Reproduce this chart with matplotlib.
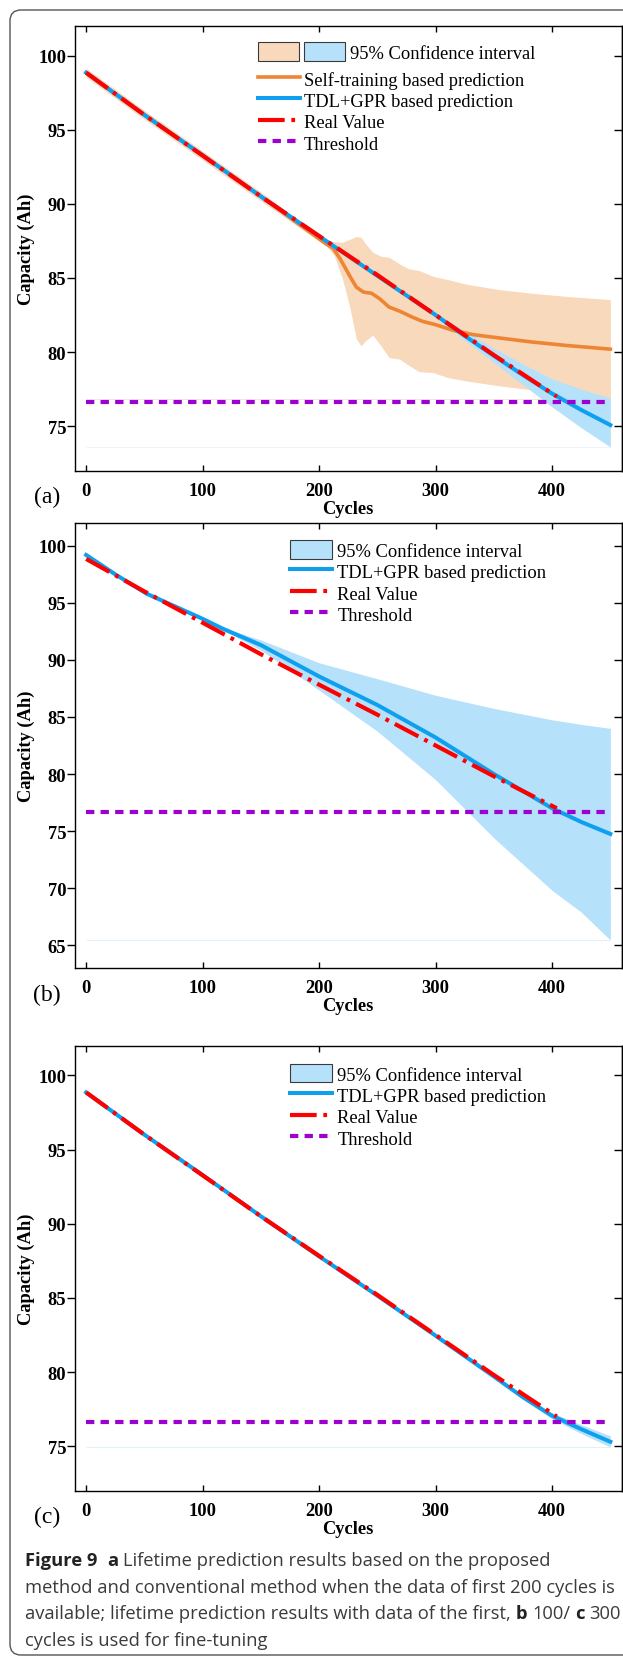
import numpy as np
import matplotlib

matplotlib.use("Agg")
import matplotlib.pyplot as plt
from matplotlib.patches import Patch, FancyBboxPatch
from matplotlib.lines import Line2D
from matplotlib.legend_handler import HandlerTuple
from matplotlib.transforms import IdentityTransform

# ---- data -----------------------------------------------------------------
threshold = 76.65

real_x = [0, 50, 100, 150, 200, 250, 300, 350, 404]
real_y = [98.85, 96.0, 93.26, 90.5, 87.83, 85.2, 82.5, 79.8, 77.0]

# (a) fine-tuning with first 200 cycles
self_x = [0, 50, 100, 150, 198, 206, 212, 218, 223, 228, 232, 238, 245, 252,
          260, 269, 280, 289, 300, 315, 332, 355, 383, 412, 450]
self_y = [98.85, 96.0, 93.26, 90.5, 87.75, 87.3, 87.0, 86.3, 85.6, 84.9, 84.38,
          84.05, 83.97, 83.6, 83.04, 82.77, 82.36, 82.07, 81.85, 81.47, 81.18,
          80.95, 80.68, 80.45, 80.2]
self_band_x = [0, 50, 100, 150, 198, 206, 213, 220, 226, 232, 236, 240, 246,
               253, 260, 269, 277, 286, 298, 310, 326, 355, 383, 412, 450]
self_hi = [99.15, 96.3, 93.56, 90.8, 87.95, 87.52, 87.45, 87.41, 87.6, 87.8,
           87.75, 87.3, 86.74, 86.47, 86.4, 85.95, 85.62, 85.5, 85.11, 84.9,
           84.59, 84.21, 83.97, 83.76, 83.54]
self_lo = [98.55, 95.7, 92.96, 90.2, 87.6, 87.18, 86.5, 84.95, 83.13, 80.88,
           80.43, 80.77, 81.15, 80.43, 79.64, 79.53, 79.1, 78.67, 78.62, 78.29,
           78.06, 77.72, 77.45, 77.16, 76.87]

tdl_a_x = [0, 50, 100, 150, 200, 250, 300, 325, 350, 375, 400, 425, 450]
tdl_a_y = [98.85, 96.0, 93.28, 90.5, 87.82, 85.15, 82.5, 81.1, 79.75, 78.45,
           77.2, 76.1, 75.08]
tdl_a_hi = [98.95, 96.1, 93.38, 90.6, 87.92, 85.25, 82.65, 81.45, 80.25, 79.2,
            78.2, 77.5, 76.9]
tdl_a_lo = [98.75, 95.9, 93.18, 90.4, 87.72, 85.05, 82.35, 80.8, 79.3, 77.8,
            76.3, 74.9, 73.6]

# (b) first 100 cycles
tdl_b_x = [0, 25, 52, 75, 100, 117, 150, 200, 250, 300, 350, 400, 425, 450]
tdl_b_y = [99.2, 97.5, 95.8, 94.75, 93.6, 92.75, 91.3, 88.55, 86.05, 83.2,
           80.0, 77.0, 75.8, 74.75]
tdl_b_hi = [99.3, 97.6, 95.9, 94.85, 93.7, 92.85, 91.75, 89.75, 88.35, 86.9,
            85.75, 84.75, 84.35, 84.0]
tdl_b_lo = [99.1, 97.4, 95.7, 94.65, 93.5, 92.65, 90.85, 87.35, 83.75, 79.5,
            74.4, 69.8, 67.9, 65.45]

# (c) first 300 cycles
tdl_c_x = [0, 50, 100, 150, 200, 250, 300, 350, 375, 400, 425, 450]
tdl_c_y = [98.85, 96.0, 93.28, 90.5, 87.8, 85.15, 82.45, 79.7, 78.3, 77.05,
           76.15, 75.3]
tdl_c_hi = [98.9, 96.05, 93.33, 90.55, 87.85, 85.2, 82.5, 79.78, 78.42, 77.25,
            76.45, 75.7]
tdl_c_lo = [98.8, 95.95, 93.23, 90.45, 87.75, 85.1, 82.4, 79.62, 78.18, 76.85,
            75.85, 74.95]

cycle_ticks = [0, 100, 200, 300, 400]
cap_ticks_ac = [75, 80, 85, 90, 95, 100]
cap_ticks_b = [65, 70, 75, 80, 85, 90, 95, 100]

# ---- style -----------------------------------------------------------------
BLUE = "#0ea0ee"
BLUE_FILL = "#b6e1fa"
ORANGE = "#ee8534"
ORANGE_FILL = "#f9d9bc"
RED = "#ff0000"
PURPLE = "#9d00cf"
SERIF = "Liberation Serif"
FS = 13.3

plt.rcParams["font.family"] = SERIF
plt.rcParams["axes.linewidth"] = 1.0

W, H = 623, 1658
fig = plt.figure(figsize=(W / 100, H / 100), dpi=100)

red_kw = dict(color=RED, lw=3.0, linestyle=(0, (6.4, 1.6, 0.9, 1.6)))
pur_kw = dict(color=PURPLE, lw=3.0, linestyle=(0, (2.0, 1.5)))
blue_kw = dict(color=BLUE, lw=2.9)
orange_kw = dict(color=ORANGE, lw=2.6)


def make_axes(top, bottom, left=74.5, right=622):
    return fig.add_axes([left / W, 1 - bottom / H, (right - left) / W,
                         (bottom - top) / H])


def style_axes(ax, ylim, yticks, tag, tag_y):
    ax.set_xlim(-10, 460)
    ax.set_ylim(*ylim)
    ax.set_xticks(cycle_ticks)
    ax.set_yticks(yticks)
    ax.tick_params(axis="x", direction="in", top=True, length=4.5, width=1,
                   pad=8, labelsize=FS)
    ax.tick_params(axis="y", direction="out", length=5.5, width=1, pad=0.5,
                   labelsize=FS)
    for lab in ax.get_xticklabels() + ax.get_yticklabels():
        lab.set_fontweight("bold")
    sec = ax.secondary_yaxis("right")
    sec.set_yticks(yticks)
    sec.tick_params(direction="in", length=5.5, width=1, labelright=False)
    ax.set_xlabel("Cycles", fontsize=FS, fontweight="bold")
    ax.xaxis.set_label_coords(0.5, -0.066)
    ax.set_ylabel("Capacity (Ah)", fontsize=FS, fontweight="bold")
    ax.yaxis.set_label_coords(-0.072, 0.5)
    fig.text(47 / W, 1 - tag_y / H, tag, fontsize=17, ha="center",
             va="center", family=SERIF)


def baseline_artifact(ax, xs, lo, color):
    # MATLAB fill leaves a faint edge along the last lower value
    ax.hlines(lo[-1], xs[0], xs[-1], color=color, lw=0.7, zorder=1)


# ---- (a) -------------------------------------------------------------------
ax = make_axes(27, 471.7)
ax.fill_between(self_band_x, self_lo, self_hi, color=ORANGE_FILL, lw=0, zorder=1)
baseline_artifact(ax, self_band_x, self_lo, "#f5e6dc")
ax.fill_between(tdl_a_x, tdl_a_lo, tdl_a_hi, color=BLUE_FILL, lw=0, zorder=2)
baseline_artifact(ax, tdl_a_x, tdl_a_lo, "#eef4f8")
ax.plot(self_x, self_y, zorder=3, **orange_kw)
ax.plot(tdl_a_x, tdl_a_y, zorder=4, **blue_kw)
ax.plot(real_x, real_y, zorder=5, **red_kw)
ax.hlines(threshold, 0, 450, zorder=6, **pur_kw)
style_axes(ax, (72, 102), cap_ticks_ac, "(a)", 497)

ci_pair = (Patch(facecolor=ORANGE_FILL, edgecolor="#3a3a3a", lw=0.8),
           Patch(facecolor=BLUE_FILL, edgecolor="#3a3a3a", lw=0.8))
leg1 = ax.legend([ci_pair], ["95% Confidence interval"],
                 handler_map={tuple: HandlerTuple(ndivide=None, pad=0.27)},
                 loc="center left", bbox_to_anchor=(0.3352, 0.9415),
                 frameon=False, fontsize=FS, handlelength=4.71,
                 handleheight=1.14, handletextpad=0.27, borderpad=0,
                 borderaxespad=0)
ax.add_artist(leg1)
ax.legend([Line2D([], [], **orange_kw), Line2D([], [], **blue_kw),
           Line2D([], [], **red_kw), Line2D([], [], **pur_kw)],
          ["Self-training based prediction", "TDL+GPR based prediction",
           "Real Value", "Threshold"],
          loc="center left", bbox_to_anchor=(0.3352, 0.8089), frameon=False,
          fontsize=FS, handlelength=2.27, handleheight=1.14,
          handletextpad=0.22, labelspacing=0.11, borderpad=0, borderaxespad=0)


def tdl_panel(top, bottom, xs, ys, hi, lo, ylim, yticks, tag, tag_y, leg_y):
    ax = make_axes(top, bottom)
    ax.fill_between(xs, lo, hi, color=BLUE_FILL, lw=0, zorder=1)
    baseline_artifact(ax, xs, lo, "#dff0fb")
    ax.plot(xs, ys, zorder=3, **blue_kw)
    ax.plot(real_x, real_y, zorder=4, **red_kw)
    ax.hlines(threshold, 0, 450, zorder=5, **pur_kw)
    style_axes(ax, ylim, yticks, tag, tag_y)
    ax.legend([Patch(facecolor=BLUE_FILL, edgecolor="#3a3a3a", lw=0.8),
               Line2D([], [], **blue_kw), Line2D([], [], **red_kw),
               Line2D([], [], **pur_kw)],
              ["95% Confidence interval", "TDL+GPR based prediction",
               "Real Value", "Threshold"],
              loc="center left", bbox_to_anchor=(0.3936, leg_y), frameon=False,
              fontsize=FS, handlelength=2.27, handleheight=1.14,
              handletextpad=0.3, labelspacing=0.11, borderpad=0,
              borderaxespad=0)
    return ax


tdl_panel(524, 969, tdl_b_x, tdl_b_y, tdl_b_hi, tdl_b_lo, (63, 102),
          cap_ticks_b, "(b)", 995, 0.867)
tdl_panel(1046.7, 1491.7, tdl_c_x, tdl_c_y, tdl_c_hi, tdl_c_lo, (72, 102),
          cap_ticks_ac, "(c)", 1517, 0.8645)

# ---- rounded frame ------------------------------------------------------------
fig.add_artist(FancyBboxPatch((10, 2), 660, 1645,
                              boxstyle="round,pad=0,rounding_size=11",
                              transform=IdentityTransform(), fc="none",
                              ec="#555555", lw=1.0))

# ---- caption ------------------------------------------------------------------
CAP_FS = 13.2
renderer = fig.canvas.get_renderer()


def text_width(s, bold):
    t = fig.text(0, 0, s, fontsize=CAP_FS, family="Open Sans",
                 fontweight="bold" if bold else "normal")
    w = t.get_window_extent(renderer).width
    t.remove()
    return w


space_w = text_width("x x", False) - text_width("xx", False)


def caption_line(y_px, parts):
    x = 25
    for s, bold, gap in parts:
        x += gap * space_w
        t = fig.text(x, H - y_px, s, transform=IdentityTransform(),
                     fontsize=CAP_FS, family="Open Sans",
                     fontweight="bold" if bold else "normal",
                     color="#222222" if bold else "#3b3b3b", va="baseline")
        x += t.get_window_extent(renderer).width


caption_line(1566, [("Figure 9", True, 0), ("a", True, 2),
                    ("Lifetime prediction results based on the proposed", False, 1)])
caption_line(1592.7, [("method and conventional method when the data of first 200 cycles is", False, 0)])
caption_line(1619.3, [("available; lifetime prediction results with data of the first,", False, 0),
                      ("b", True, 1), ("100/", False, 1), ("c", True, 1),
                      ("300", False, 1)])
caption_line(1646, [("cycles is used for fine-tuning", False, 0)])

fig.savefig("out.png", dpi=100)
